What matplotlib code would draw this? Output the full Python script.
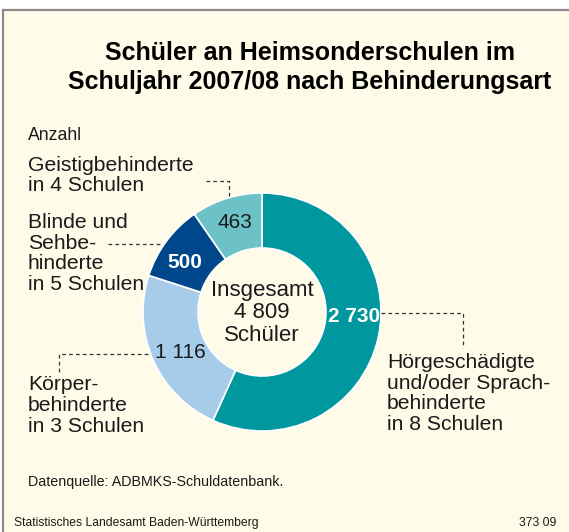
import matplotlib.pyplot as plt
from matplotlib.patches import Rectangle

plt.rcParams['font.family'] = ['Liberation Sans', 'DejaVu Sans']

# data (clockwise from the top)
categories = ['Hörgeschädigte\nund/oder Sprach-\nbehinderte\nin 8 Schulen',
              'Körper-\nbehinderte\nin 3 Schulen',
              'Blinde und\nSehbe-\nhinderte\nin 5 Schulen',
              'Geistigbehinderte\nin 4 Schulen']
values = [2730, 1116, 500, 463]
value_labels = ['2 730', '1 116', '500', '463']
total_label = 'Insgesamt\n4 809\nSchüler'
colors = ['#00989E', '#A7CCEA', '#00468A', '#6CC2C6']

W, H = 569, 532
bg = '#FFFBE9'
ink = '#1a1a1a'

fig = plt.figure(figsize=(W / 100, H / 100), dpi=100)
fig.patch.set_facecolor('white')
ax = fig.add_axes([0, 0, 1, 1])

cx, cy, R = 262, 312, 119
# y axis is inverted below, so counterclock=True draws clockwise on screen
ax.pie(values, colors=colors, startangle=-90, counterclock=True,
       center=(cx, cy), radius=R,
       wedgeprops=dict(width=55, edgecolor='white', linewidth=1.2))

ax.set_xlim(0, W)
ax.set_ylim(H, 0)
ax.set_aspect('auto')
ax.axis('off')

# cream panel with grey frame on top and left
ax.add_patch(Rectangle((3.5, 9.5), W, H, facecolor=bg, edgecolor='none', zorder=-5))
ax.plot([3.5, W], [9.5, 9.5], color='#8a8a8a', lw=1.6, zorder=-4)
ax.plot([3.5, 3.5], [9.5, H], color='#8a8a8a', lw=1.6, zorder=-4)

ax.text(310, 67.5, 'Schüler an Heimsonderschulen im\nSchuljahr 2007/08 nach Behinderungsart',
        ha='center', va='center', fontsize=18, fontweight='bold',
        color='black', linespacing=1.22)

ax.text(28, 135, 'Anzahl', ha='left', va='center', fontsize=12.7, color=ink)

# value labels on the ring
ax.text(354, 317, value_labels[0], ha='center', va='center', fontsize=15,
        fontweight='bold', color='white')
ax.text(180, 353, value_labels[1], ha='center', va='center', fontsize=15, color=ink)
ax.text(185, 262, value_labels[2], ha='center', va='center', fontsize=15,
        fontweight='bold', color='white')
ax.text(235, 222, value_labels[3], ha='center', va='center', fontsize=15, color=ink)

ax.text(cx, 313, total_label, ha='center', va='center', fontsize=16,
        color=ink, linespacing=1.08)

# category labels
lab = dict(ha='left', va='center', fontsize=15.2, color=ink, linespacing=1.13)
ax.text(387, 393.5, categories[0], **lab)
ax.text(28, 405.5, categories[1], **lab)
ax.text(28, 253.5, categories[2], **lab)
ax.text(28, 175.5, categories[3], **lab)

# dashed leader lines
dash = dict(color='#333333', lw=0.9, linestyle=(0, (3, 2.5)))
ax.plot([381, 463, 463], [313, 313, 348], **dash)
ax.plot([148, 59, 59], [354, 354, 375], **dash)
ax.plot([108, 163], [244, 244], **dash)
ax.plot([206, 229, 229], [181, 181, 196], **dash)

ax.text(28, 482, 'Datenquelle: ADBMKS-Schuldatenbank.', ha='left', va='center',
        fontsize=10.3, color=ink)
ax.text(14, 523, 'Statistisches Landesamt Baden-Württemberg', ha='left', va='center',
        fontsize=8.7, color=ink)
ax.text(556, 523, '373 09', ha='right', va='center', fontsize=8.7, color=ink)

fig.savefig('out.png', dpi=100, facecolor='white')
